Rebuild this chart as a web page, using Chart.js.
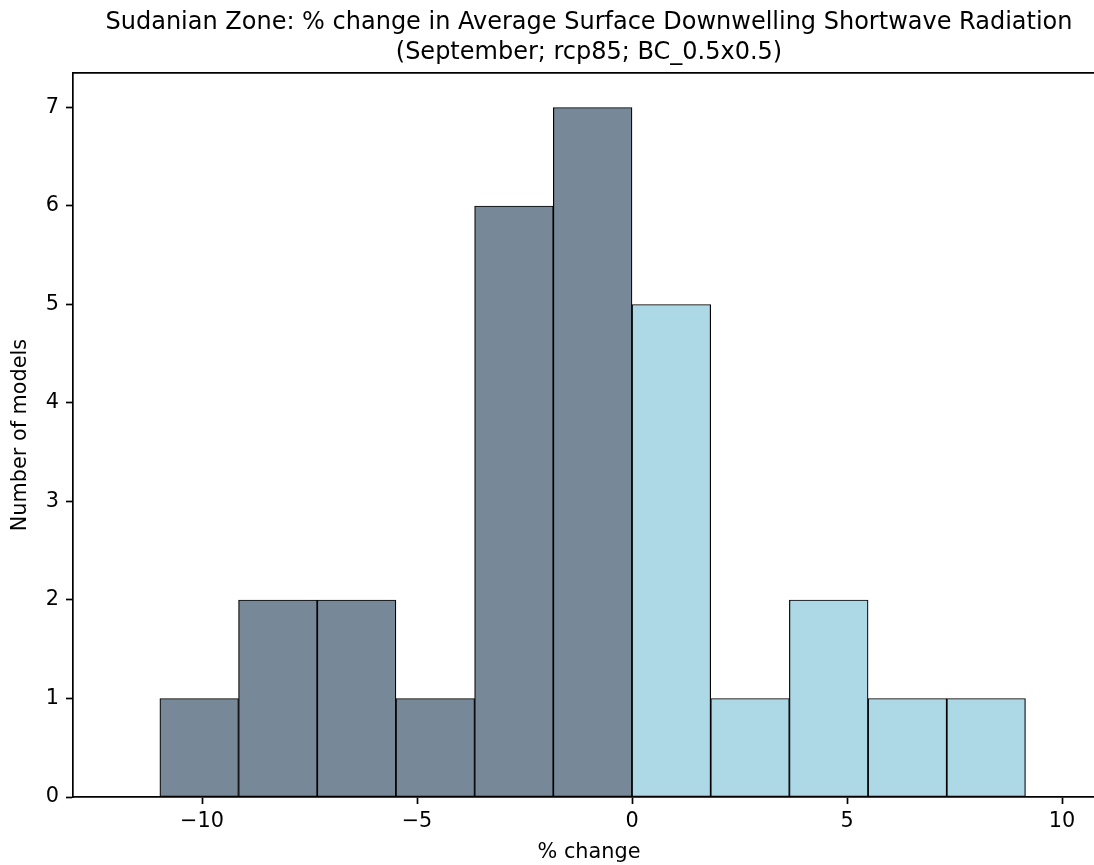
<!DOCTYPE html>
<html><head><meta charset="utf-8">
<script src="https://cdn.jsdelivr.net/npm/chart.js@4"></script>
<style>html,body{margin:0;padding:0;overflow:hidden;background:#fff;width:1094px;height:865px}canvas{display:block}</style>
</head><body>
<canvas id="c" width="1110" height="865"></canvas>
<script>
const binEdges = [-10.98, -9.15, -7.32, -5.49, -3.66, -1.83, 0, 1.83, 3.66, 5.49, 7.32, 9.15];
const counts = [1, 2, 2, 1, 6, 7, 5, 1, 2, 1, 1];
const xTicks = [-10, -5, 0, 5, 10];
const yTicks = [0, 1, 2, 3, 4, 5, 6, 7];
const titleLines = ['Sudanian Zone: % change in Average Surface Downwelling Shortwave Radiation', '(September; rcp85; BC_0.5x0.5)'];
const xLabel = '% change';
const yLabel = 'Number of models';

const FAM = '"DejaVu Sans", sans-serif';
const centers = counts.map((_, i) => (binEdges[i] + binEdges[i + 1]) / 2);
const fmt = v => v < 0 ? '\u2212' + Math.abs(v) : String(v);
const LW = 1.7;

new Chart(document.getElementById('c'), {
  type: 'bar',
  data: {
    datasets: [{
      data: centers.map((c, i) => ({ x: c, y: counts[i] })),
      backgroundColor: centers.map(c => c < 0 ? '#778899' : '#ADD8E6'),
      borderColor: '#000',
      borderWidth: 1.2,
      borderSkipped: false,
      barPercentage: 1,
      categoryPercentage: 1
    }]
  },
  options: {
    responsive: false,
    animation: false,
    devicePixelRatio: 1,
    layout: { padding: { left: 0, right: 5, top: 0, bottom: 0 } },
    plugins: {
      legend: { display: false },
      tooltip: { enabled: false },
      title: {
        display: true,
        text: titleLines,
        fullSize: false,
        color: '#000',
        font: { family: FAM, size: 24, weight: 'normal', lineHeight: 1.25 },
        padding: { top: 8, bottom: 5 }
      }
    },
    scales: {
      x: {
        type: 'linear',
        position: 'bottom',
        min: -13, max: 11,
        offset: false,
        afterBuildTicks: s => { s.ticks = xTicks.map(v => ({ value: v })); },
        afterFit: s => { s.height = 68; },
        ticks: { callback: v => fmt(v), color: '#000', font: { family: FAM, size: 20.8 }, padding: 5, maxRotation: 0, autoSkip: false },
        grid: { display: true, offset: false, drawOnChartArea: false, drawTicks: true, tickLength: 7, tickWidth: LW, tickColor: '#000' },
        border: { display: true, color: '#000', width: LW },
        title: { display: true, text: xLabel, color: '#000', font: { family: FAM, size: 20.8 }, padding: { top: 3, bottom: 0 } }
      },
      xTop: {
        type: 'linear',
        position: 'top',
        min: -13, max: 11,
        afterFit: s => { s.height = 0; },
        ticks: { display: false },
        grid: { display: false, drawTicks: false },
        border: { display: true, color: '#000', width: LW }
      },
      y: {
        type: 'linear',
        position: 'left',
        min: 0, max: 7.35,
        afterBuildTicks: s => { s.ticks = yTicks.map(v => ({ value: v })); },
        afterFit: s => { s.width = 73; },
        ticks: { callback: v => fmt(v), color: '#000', font: { family: FAM, size: 20.8 }, padding: 7 },
        grid: { display: true, offset: false, drawOnChartArea: false, drawTicks: true, tickLength: 7, tickWidth: LW, tickColor: '#000' },
        border: { display: true, color: '#000', width: LW },
        title: { display: true, text: yLabel, color: '#000', font: { family: FAM, size: 20.8 }, padding: { top: 8, bottom: 0 } }
      }
    }
  }
});
</script>
</body></html>
